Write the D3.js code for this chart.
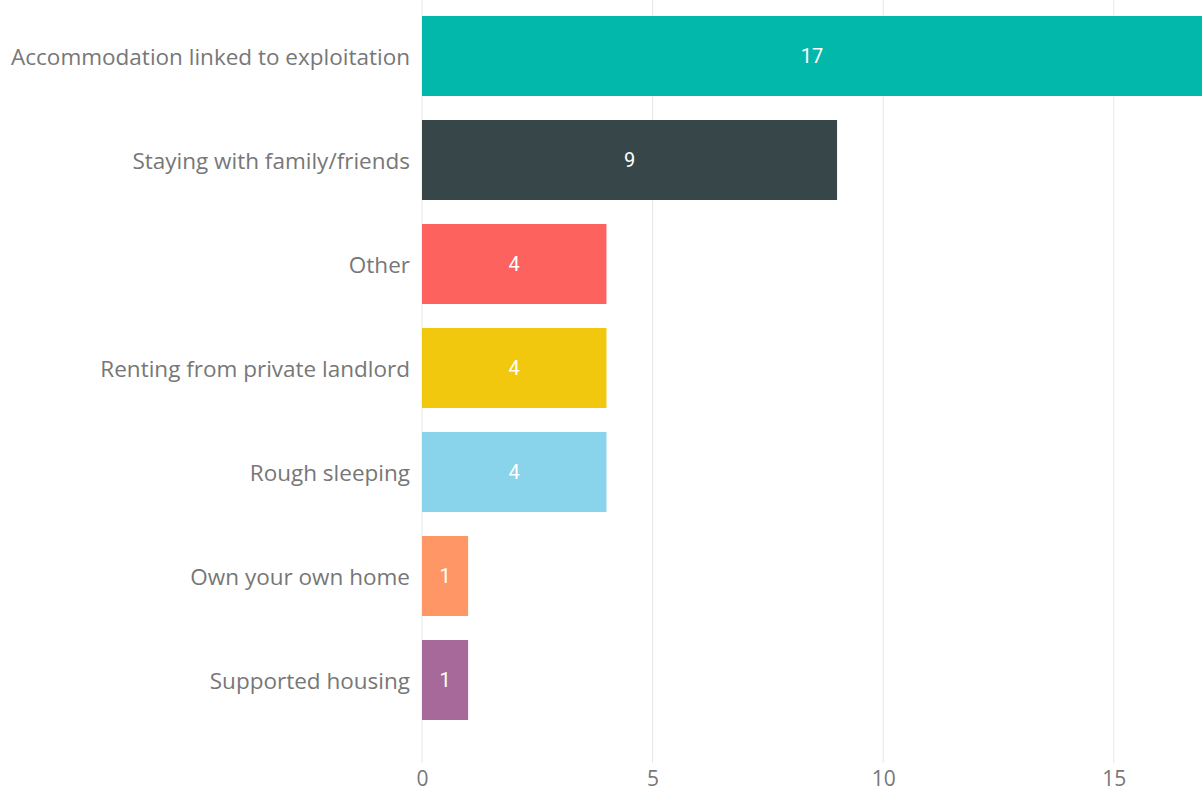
<!DOCTYPE html>
<html>
<head>
<meta charset="utf-8">
<script src="https://cdn.jsdelivr.net/npm/d3@7"></script>
<style>
  html, body { margin: 0; padding: 0; background: #fff; }
  svg { display: block; }
</style>
</head>
<body>
<svg id="chart" width="1202" height="794"></svg>
<script>
const categories = [
  'Accommodation linked to exploitation',
  'Staying with family/friends',
  'Other',
  'Renting from private landlord',
  'Rough sleeping',
  'Own your own home',
  'Supported housing'
];
const counts = [17, 9, 4, 4, 4, 1, 1];
const barColors = ['#01b8aa', '#374649', '#fd625e', '#f2c80f', '#8ad4eb', '#fe9666', '#a66999'];
const xTicks = [0, 5, 10, 15];

const rows = categories.map((c, i) => ({ name: c, value: counts[i], color: barColors[i] }));

const svg = d3.select('#chart');
const width = +svg.attr('width');
const height = +svg.attr('height');

const x = d3.scaleLinear().domain([0, 17]).range([422, 1206]);
const y = d3.scaleBand()
  .domain(categories)
  .range([4, 732])
  .paddingInner(24 / 104)
  .paddingOuter(12 / 104);

// gridlines
svg.append('g')
  .selectAll('line')
  .data(xTicks)
  .enter()
  .append('line')
  .attr('x1', d => x(d))
  .attr('x2', d => x(d))
  .attr('y1', 0)
  .attr('y2', 763)
  .style('stroke', '#e6e6e6')
  .style('stroke-width', 1);

// x axis labels
const xAxis = svg.append('g')
  .attr('transform', 'translate(0,' + 763 + ')')
  .call(d3.axisBottom(x).tickValues(xTicks).tickSize(0).tickPadding(8));
xAxis.select('.domain').remove();
xAxis.selectAll('text')
  .style('font-family', '"Open Sans", "Noto Sans", sans-serif')
  .style('font-size', '21px')
  .style('fill', '#777');

// y axis labels
const yAxis = svg.append('g')
  .attr('transform', 'translate(' + 410 + ',2)')
  .call(d3.axisLeft(y).tickSize(0).tickPadding(0));
yAxis.select('.domain').remove();
yAxis.selectAll('text')
  .style('font-family', '"Open Sans", "Noto Sans", sans-serif')
  .style('font-size', '22.5px')
  .style('fill', '#777');

// bars
svg.append('g')
  .selectAll('rect')
  .data(rows)
  .enter()
  .append('rect')
  .attr('x', x(0))
  .attr('y', d => y(d.name))
  .attr('width', d => x(d.value) - x(0))
  .attr('height', y.bandwidth())
  .attr('fill', d => d.color);

// data labels
svg.append('g')
  .selectAll('text')
  .data(rows)
  .enter()
  .append('text')
  .attr('x', d => (x(0) + Math.min(x(d.value), width)) / 2)
  .attr('y', d => y(d.name) + y.bandwidth() / 2)
  .attr('dy', '0.35em')
  .attr('text-anchor', 'middle')
  .style('font-family', 'Roboto, "DejaVu Sans", sans-serif')
  .style('font-size', '20px')
  .style('fill', '#fff')
  .text(d => d.value);
</script>
</body>
</html>
